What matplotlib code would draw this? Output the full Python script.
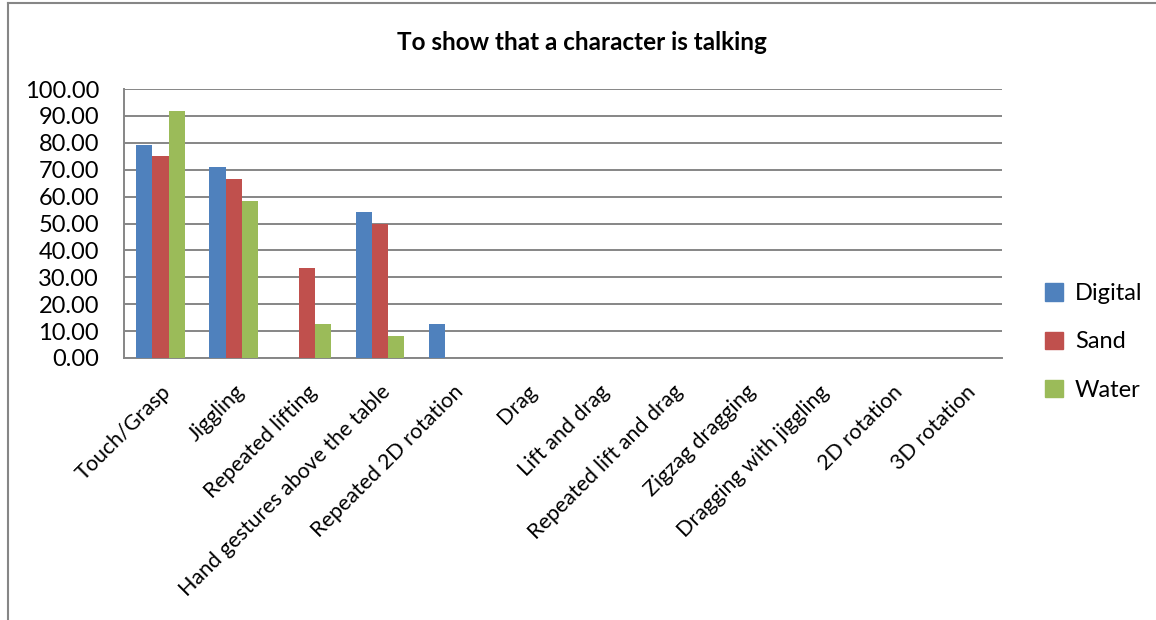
import numpy as np
import matplotlib.pyplot as plt
from matplotlib.lines import Line2D
from matplotlib.patches import Patch

plt.rcParams['font.family'] = ['Lato', 'DejaVu Sans']

categories = ["Touch/Grasp", "Jiggling", "Repeated lifting", "Hand gestures above the table",
              "Repeated 2D rotation", "Drag", "Lift and drag", "Repeated lift and drag",
              "Zigzag dragging", "Dragging with jiggling", "2D rotation", "3D rotation"]
digital = [79.17, 70.83, 0, 54.17, 12.5, 0, 0, 0, 0, 0, 0, 0]
sand = [75.00, 66.67, 33.33, 50.00, 0, 0, 0, 0, 0, 0, 0, 0]
water = [91.67, 58.33, 12.5, 8.33, 0, 0, 0, 0, 0, 0, 0, 0]
series = [("Digital", digital, "#4F81BD"), ("Sand", sand, "#C0504D"), ("Water", water, "#9BBB59")]

fig = plt.figure(figsize=(11.56, 6.2), dpi=100)
ax = fig.add_axes([124 / 1156, 1 - 358 / 620, 878 / 1156, 269 / 620])

x = np.arange(len(categories))
w = 1 / 4.5
for i, (name, vals, col) in enumerate(series):
    ax.bar(x + (i - 1) * w, vals, w, color=col, label=name, zorder=3)

ax.set_xlim(-0.5, len(categories) - 0.5)
ax.set_ylim(0, 100)
ax.set_yticks(np.arange(0, 101, 10))
ax.set_yticklabels([f"{v:.2f}" for v in np.arange(0, 101, 10)], fontsize=17)
ax.set_xticks(x)
ax.set_xticklabels(categories, rotation=45, ha='right', rotation_mode='anchor', fontsize=15.5)
ax.tick_params(axis='y', length=0, pad=18)
ax.tick_params(axis='x', length=0, pad=17)
ax.grid(axis='y', color='#868686', linewidth=1.4, zorder=0)
ax.set_axisbelow(True)
for s in ['top', 'right']:
    ax.spines[s].set_visible(False)
for s in ['left', 'bottom']:
    ax.spines[s].set_color('#868686')
    ax.spines[s].set_linewidth(1.4)

fig.text(582 / 1156, 1 - 42 / 620, "To show that a character is talking", ha='center', va='center',
         fontsize=17.5, fontweight='bold')

handles = [Patch(color=c, label=n) for n, _, c in series]
fig.legend(handles=handles, loc='center left', bbox_to_anchor=(1024 / 1156, 1 - 342 / 620),
           frameon=False, fontsize=17, handlelength=0.75, handleheight=0.75,
           handletextpad=0.5, labelspacing=1.15)

fig.add_artist(Line2D([8 / 1156, 8 / 1156], [0, 1 - 3 / 620], transform=fig.transFigure,
                      color='#868686', linewidth=1.5))
fig.add_artist(Line2D([8 / 1156, 1], [1 - 3 / 620, 1 - 3 / 620], transform=fig.transFigure,
                      color='#868686', linewidth=1.5))

fig.savefig("out.png", dpi=100)
